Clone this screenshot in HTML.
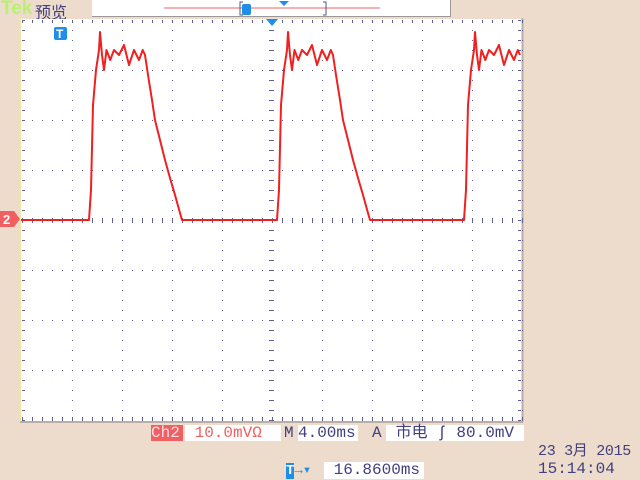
<!DOCTYPE html>
<html><head><meta charset="utf-8"><style>
body{margin:0;width:640px;height:480px;background:#eddccb;position:relative;overflow:hidden;font-family:"Liberation Mono","Noto Sans CJK SC",monospace;}
.t{position:absolute;white-space:nowrap;}
.box{position:absolute;background:#fff;}
</style></head><body>
<div class="t" style="left:1px;top:-2px;font:bold 19px 'Liberation Sans',sans-serif;color:#b8f070;">Tek</div>
<div class="t" style="left:35px;top:-1px;font-size:16px;color:#404080;font-family:'Liberation Sans','Noto Sans CJK SC',sans-serif;">预览</div>
<div class="box" style="left:92px;top:0;width:358px;height:16px;border-right:1px solid #999;border-bottom:1px solid #999;"></div>
<svg width="640" height="480" style="position:absolute;left:0;top:0">
<line x1="164" y1="8" x2="380" y2="8" stroke="#f06060" stroke-width="1"/>
<path d="M243 2 H240 V15 H243 M323 2 H326 V15 H323" fill="none" stroke="#555580"/>
<rect x="242" y="4" width="9" height="11" rx="2" fill="#1e8ee8"/>
<path d="M279 1 H289 L284 6 Z" fill="#1e8ee8"/>
<rect x="21" y="19" width="501" height="402" fill="#fff"/>
<line x1="20.5" y1="18" x2="20.5" y2="422" stroke="#f0e8a0"/>
<line x1="522.5" y1="18" x2="522.5" y2="422" stroke="#b8b0a8" stroke-width="2"/>
<line x1="20" y1="422" x2="523" y2="422" stroke="#b8b0a8" stroke-width="2"/>
<g id="grid" fill="#606090"></g>
<polyline id="trace" fill="none" stroke="#f02020" stroke-width="2" stroke-linejoin="round"/>
<rect x="54" y="27" width="13" height="13" rx="2" fill="#1e8ee8"/><text x="56" y="38" font-family="Liberation Sans" font-weight="bold" font-size="12" fill="#fff">T</text>
<path d="M266 19 H278 L272 26 Z" fill="#1e8ee8"/>
<path d="M0 211 H14 L20 219 L14 227 H0 Z" fill="#f06060"/><text x="3" y="224" font-family="Liberation Sans" font-weight="bold" font-size="13" fill="#fff">2</text>
</svg>
<div class="t" style="left:151px;top:425px;width:32px;height:16px;background:#f06060;color:#fde;font-size:16px;line-height:16px;">Ch2</div>
<div class="t box" style="left:185px;top:425px;width:96px;height:16px;color:#f06060;font-size:16px;line-height:16px;">&nbsp;10.0mVΩ</div>
<div class="t" style="left:284px;top:425px;color:#404080;font-size:16px;line-height:16px;">M</div>
<div class="t box" style="left:298px;top:425px;width:60px;height:16px;color:#404080;font-size:16px;line-height:16px;">4.00ms</div>
<div class="t" style="left:372px;top:425px;color:#404080;font-size:16px;line-height:16px;">A</div>
<div class="t box" style="left:386px;top:425px;width:138px;height:16px;color:#404080;font-size:16px;line-height:16px;">&nbsp;市电 ʃ 80.0mV</div>
<div class="t" style="left:538px;top:444px;color:#404080;font-size:15px;line-height:16px;letter-spacing:-0.3px;">23 3月 2015</div>
<div class="t" style="left:538px;top:461px;color:#404080;font-size:16px;line-height:16px;">15:14:04</div>
<div class="t" style="left:286px;top:462px;color:#1e8ee8;font-size:14px;"><span style="background:#1e8ee8;color:#fff;font-weight:bold;">T</span>→▾</div>
<div class="t box" style="left:324px;top:462px;width:100px;height:17px;color:#404080;font-size:16px;line-height:17px;">&nbsp;16.8600ms</div>
<script>
const pulseStarts=[-14.56,0.48,15.44];
const shapeT=[0,0.16,0.32,0.56,0.8,0.88,1.04,1.2,1.4,1.7,2,2.4,2.8,3.2,3.6,4,4.3,4.48,4.72,5.04,5.28,5.68,6.08,6.48,6.88,7.28,7.44];
const shapeV=[0,6,23,30,34,37.6,33,30,34,32,34,33,35,31,34,32,34,33,29,24,20,16,12,8.4,5,1.4,0];
const tMin=-20,tMax=20.08;
const X=t=>271+t*12.5, Y=v=>220-v*5;
const g=document.getElementById('grid');
function dot(x,y,w,h){const r=document.createElementNS('http://www.w3.org/2000/svg','rect');r.setAttribute('x',x);r.setAttribute('y',y);r.setAttribute('width',w||1);r.setAttribute('height',h||1);g.appendChild(r);}
for(let i=0;i<=10;i++){const x=22+i*50;for(let y=20;y<=420;y+=10)dot(x,y);}
for(let j=0;j<=8;j++){const y=20+j*50;for(let x=22;x<=522;x+=10)dot(x,y);}
for(let x=22;x<=522;x+=10){dot(x,20,1,3);dot(x,417,1,3);dot(x,218,1,5);}
for(let y=20;y<=420;y+=10){dot(22,y,3,1);dot(518,y,3,1);dot(269,y,5,1);}
const pts=[];
let cur=tMin;
pulseStarts.forEach(s=>{
  pts.push([Math.max(cur,tMin),0]);
  shapeT.forEach((dt,i)=>{const t=s+dt;if(t<=tMax)pts.push([t,shapeV[i]]);});
  cur=s+shapeT[shapeT.length-1];
});
if(cur<tMax)pts.push([tMax,0]);
const tr=document.getElementById('trace');
tr.setAttribute('points',pts.filter(p=>p[0]>=tMin&&p[0]<=tMax).map(p=>X(p[0]).toFixed(1)+','+Y(p[1]).toFixed(1)).join(' '));
</script>
</body></html>
